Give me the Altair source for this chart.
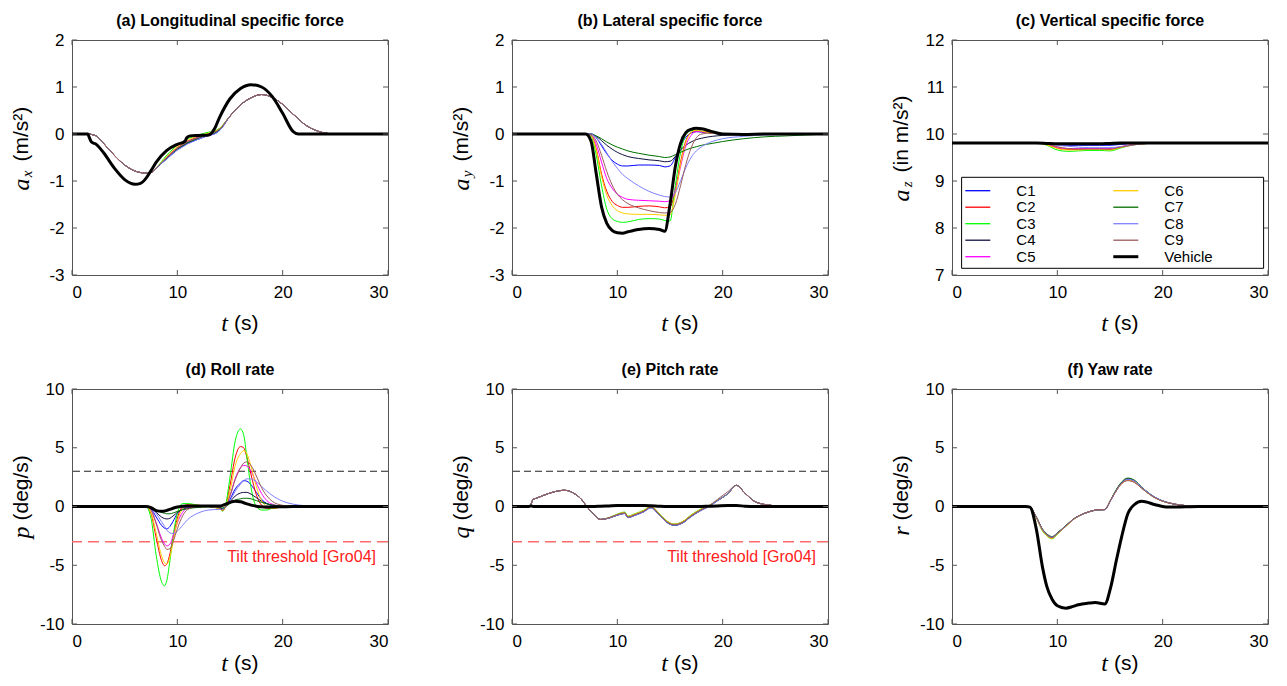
import altair as alt
import pandas as pd

SERIES = ["C1", "C2", "C3", "C4", "C5", "C6", "C7", "C8", "C9", "Vehicle"]
COLORS = ["#0000ff", "#ff0000", "#00ff00", "#101040", "#ff00ff",
          "#ffcc00", "#007000", "#8080ff", "#9c5b5b", "#000000"]
XTICKS = [0, 10, 20, 30]

# ---------------- (a) longitudinal specific force ----------------
a_t = [0, 1.5, 1.6, 1.85, 2.3, 3, 4, 5, 6, 6.5, 7, 7.5, 8, 9, 10, 10.7, 10.9, 11.2, 12, 13, 13.5, 14,
       15, 16, 17, 18, 19, 20, 21, 21.5, 22, 23, 24, 25, 30]
a_C1 = [0, 0, 0, -0.01, -0.04, -0.2, -0.45, -0.66, -0.79, -0.82, -0.83, -0.82, -0.72,
        -0.53, -0.34, -0.24, -0.21, -0.18, -0.11, -0.03, 0.0, 0.07,
        0.38, 0.62, 0.77, 0.84, 0.78, 0.63, 0.42, 0.32, 0.22, 0.09, 0.02, 0, 0]
a_C2 = [0, 0, 0, -0.01, -0.04, -0.2, -0.45, -0.66, -0.79, -0.82, -0.83, -0.82, -0.72,
        -0.49, -0.29, -0.19, -0.16, -0.13, -0.06, 0.01, 0.05, 0.11,
        0.38, 0.62, 0.77, 0.84, 0.78, 0.63, 0.42, 0.32, 0.22, 0.09, 0.02, 0, 0]
a_C3 = [0, 0, 0, -0.01, -0.04, -0.2, -0.45, -0.66, -0.79, -0.82, -0.83, -0.82, -0.72,
        -0.45, -0.24, -0.14, -0.11, -0.08, -0.02, 0.04, 0.06, 0.12,
        0.38, 0.62, 0.77, 0.84, 0.78, 0.63, 0.42, 0.32, 0.22, 0.09, 0.02, 0, 0]
a_C4 = [0, 0, 0, -0.01, -0.04, -0.2, -0.45, -0.66, -0.79, -0.82, -0.83, -0.82, -0.72,
        -0.52, -0.33, -0.23, -0.2, -0.17, -0.1, -0.02, 0.01, 0.08,
        0.38, 0.62, 0.77, 0.84, 0.78, 0.63, 0.42, 0.32, 0.22, 0.09, 0.02, 0, 0]
a_C5 = [0, 0, 0, -0.01, -0.04, -0.2, -0.45, -0.66, -0.79, -0.82, -0.83, -0.82, -0.72,
        -0.5, -0.3, -0.2, -0.17, -0.14, -0.07, 0.0, 0.04, 0.1,
        0.38, 0.62, 0.77, 0.84, 0.78, 0.63, 0.42, 0.32, 0.22, 0.09, 0.02, 0, 0]
a_C6 = [0, 0, 0, -0.01, -0.04, -0.2, -0.45, -0.66, -0.79, -0.82, -0.83, -0.82, -0.72,
        -0.48, -0.27, -0.17, -0.14, -0.11, -0.04, 0.02, 0.05, 0.11,
        0.38, 0.62, 0.77, 0.84, 0.78, 0.63, 0.42, 0.32, 0.22, 0.09, 0.02, 0, 0]
a_C7 = [0, 0, 0, -0.01, -0.04, -0.2, -0.45, -0.66, -0.79, -0.82, -0.83, -0.82, -0.72,
        -0.52, -0.32, -0.22, -0.19, -0.16, -0.09, -0.02, 0.02, 0.09,
        0.38, 0.62, 0.77, 0.84, 0.78, 0.63, 0.42, 0.32, 0.22, 0.09, 0.02, 0, 0]
a_C8 = [0, 0, 0, -0.01, -0.04, -0.2, -0.45, -0.66, -0.79, -0.82, -0.83, -0.82, -0.72,
        -0.53, -0.34, -0.25, -0.22, -0.19, -0.11, -0.03, 0.0, 0.07,
        0.38, 0.62, 0.77, 0.84, 0.78, 0.63, 0.42, 0.32, 0.22, 0.09, 0.02, 0, 0]
a_C9 = [0, 0, 0, -0.01, -0.04, -0.2, -0.45, -0.66, -0.79, -0.82, -0.83, -0.82, -0.72,
        -0.5, -0.3, -0.2, -0.17, -0.14, -0.07, -0.01, 0.04, 0.1,
        0.38, 0.62, 0.77, 0.84, 0.78, 0.63, 0.42, 0.32, 0.22, 0.09, 0.02, 0, 0]
a_V = [0, 0, -0.05, -0.17, -0.22, -0.4, -0.72, -0.97, -1.07, -1.05, -0.95, -0.78, -0.6,
       -0.35, -0.22, -0.16, -0.08, -0.04, -0.03, -0.02, 0.1, 0.35,
       0.75, 0.97, 1.05, 1.0, 0.8, 0.44, 0.05, 0, 0, 0, 0, 0, 0]

# ---------------- (b) lateral specific force ----------------
b_t = [0, 7, 7.5, 8, 8.5, 9, 9.5, 10, 10.5, 11, 12, 13, 14, 14.5, 15, 15.5, 16, 16.5, 17, 17.5,
       18, 19, 20, 22, 24, 26, 28, 30]
b_C1 = [0, 0, 0, -0.08, -0.25, -0.42, -0.56, -0.64, -0.68, -0.68, -0.66, -0.66, -0.67, -0.7,
        -0.68, -0.5, -0.25, -0.07, 0.02, 0.05, 0.04, 0.02, 0, 0, 0, 0, 0, 0]
b_C2 = [0, 0, -0.03, -0.32, -0.85, -1.22, -1.43, -1.52, -1.56, -1.56, -1.54, -1.53, -1.55, -1.57,
        -1.55, -1.2, -0.6, -0.15, 0.03, 0.07, 0.05, 0.02, 0, 0, 0, 0, 0, 0]
b_C3 = [0, 0, -0.05, -0.45, -1.1, -1.6, -1.8, -1.86, -1.88, -1.87, -1.82, -1.8, -1.81, -1.84,
        -1.85, -1.1, -0.4, -0.02, 0.07, 0.08, 0.06, 0.02, 0, 0, 0, 0, 0, 0]
b_C4 = [0, 0, 0, -0.05, -0.14, -0.24, -0.32, -0.39, -0.44, -0.48, -0.52, -0.55, -0.57, -0.59,
        -0.58, -0.48, -0.34, -0.24, -0.17, -0.12, -0.09, -0.05, -0.03, -0.01, 0, 0, 0, 0]
b_C5 = [0, 0, -0.02, -0.22, -0.6, -0.95, -1.15, -1.28, -1.35, -1.39, -1.41, -1.42, -1.43, -1.44,
        -1.42, -1.2, -0.7, -0.25, -0.03, 0.05, 0.05, 0.02, 0, 0, 0, 0, 0, 0]
b_C6 = [0, 0, -0.03, -0.35, -0.9, -1.3, -1.52, -1.63, -1.68, -1.7, -1.71, -1.71, -1.72, -1.73,
        -1.72, -1.3, -0.65, -0.18, 0.03, 0.08, 0.06, 0.02, 0, 0, 0, 0, 0, 0]
b_C7 = [0, 0, 0, -0.04, -0.1, -0.17, -0.23, -0.28, -0.32, -0.36, -0.41, -0.45, -0.48, -0.5,
        -0.49, -0.44, -0.39, -0.34, -0.3, -0.27, -0.24, -0.2, -0.16, -0.1, -0.06, -0.04, -0.02, 0]
b_C8 = [0, 0, 0, -0.08, -0.22, -0.4, -0.58, -0.73, -0.86, -0.95, -1.1, -1.22, -1.3, -1.33,
        -1.34, -1.25, -1.0, -0.72, -0.5, -0.36, -0.27, -0.16, -0.1, -0.05, -0.02, -0.01, 0, 0]
b_C9 = [0, 0, -0.02, -0.15, -0.45, -0.8, -1.08, -1.28, -1.4, -1.48, -1.57, -1.63, -1.67, -1.68,
        -1.67, -1.5, -1.1, -0.65, -0.3, -0.08, 0.0, 0.02, 0.01, 0, 0, 0, 0, 0]
b_V = [0, 0, -0.15, -0.85, -1.55, -1.9, -2.05, -2.1, -2.11, -2.08, -2.03, -2.01, -2.03, -2.07,
       -1.5, -0.7, -0.2, 0.03, 0.1, 0.12, 0.11, 0.05, 0.0, -0.01, 0, 0, 0, 0]

# ---------------- (c) vertical specific force ----------------
c_t = [0, 8, 9, 10, 11, 12, 13, 14, 15, 16, 17, 18, 20, 22, 30]
c_C1 = [9.81, 9.81, 9.8, 9.77, 9.76, 9.76, 9.76, 9.76, 9.76, 9.78, 9.8, 9.81, 9.81, 9.81, 9.81]
c_C2 = [9.81, 9.81, 9.78, 9.7, 9.67, 9.67, 9.68, 9.68, 9.67, 9.72, 9.77, 9.79, 9.81, 9.81, 9.81]
c_C3 = [9.81, 9.81, 9.76, 9.66, 9.63, 9.64, 9.65, 9.65, 9.64, 9.7, 9.76, 9.79, 9.81, 9.81, 9.81]
c_C4 = [9.81, 9.81, 9.8, 9.79, 9.78, 9.78, 9.78, 9.78, 9.78, 9.79, 9.8, 9.81, 9.81, 9.81, 9.81]
c_C5 = [9.81, 9.81, 9.78, 9.72, 9.69, 9.69, 9.69, 9.69, 9.69, 9.73, 9.77, 9.8, 9.81, 9.81, 9.81]
c_C6 = [9.81, 9.81, 9.77, 9.69, 9.66, 9.66, 9.67, 9.67, 9.66, 9.71, 9.76, 9.79, 9.81, 9.81, 9.81]
c_C7 = [9.81, 9.81, 9.8, 9.79, 9.79, 9.79, 9.79, 9.79, 9.79, 9.8, 9.8, 9.81, 9.81, 9.81, 9.81]
c_C8 = [9.81, 9.81, 9.8, 9.76, 9.74, 9.72, 9.71, 9.71, 9.71, 9.73, 9.76, 9.79, 9.81, 9.81, 9.81]
c_C9 = [9.81, 9.81, 9.79, 9.73, 9.69, 9.68, 9.68, 9.68, 9.68, 9.72, 9.76, 9.79, 9.81, 9.81, 9.81]
c_V = [9.81, 9.81, 9.8, 9.79, 9.79, 9.79, 9.79, 9.79, 9.8, 9.81, 9.81, 9.81, 9.81, 9.81, 9.81]

# ---------------- (d) roll rate ----------------
d_t = [0, 7, 7.5, 8, 8.5, 8.8, 9, 9.3, 9.6, 10, 10.5, 11, 12, 13, 14, 14.3, 14.6, 15, 15.5, 16,
       16.3, 16.6, 17, 17.5, 18, 18.5, 19, 20, 21, 22, 24, 30]
d_C1 = [0, 0, -0.2, -0.9, -1.6, -1.85, -1.9, -1.7, -1.25, -0.6, -0.15, 0.0, 0.05, 0.0, -0.15,
        -0.3, 0.0, 0.6, 1.5, 2.0, 2.2, 2.15, 1.85, 1.2, 0.6, 0.25, 0.08, 0.0, 0, 0, 0, 0]
d_C2 = [0, 0, -0.6, -2.7, -4.6, -5.05, -4.9, -4.0, -2.6, -1.0, 0.0, 0.15, 0.1, 0.0, -0.2,
        -0.35, 0.1, 1.8, 4.2, 5.1, 5.0, 4.2, 2.7, 1.0, 0.1, -0.15, -0.15, -0.05, 0, 0, 0, 0]
d_C3 = [0, 0, -1.0, -4.2, -6.4, -6.75, -6.3, -4.6, -2.5, -0.6, 0.25, 0.25, 0.1, 0.0, -0.2,
        -0.4, 0.2, 2.5, 5.6, 6.6, 6.1, 4.2, 1.6, 0.0, -0.3, -0.3, -0.15, -0.05, 0, 0, 0, 0]
d_C4 = [0, 0, -0.1, -0.5, -0.9, -1.03, -1.06, -1.0, -0.8, -0.5, -0.25, -0.1, 0.0, 0.0, -0.1,
        -0.2, 0.0, 0.4, 0.9, 1.15, 1.2, 1.2, 1.05, 0.75, 0.45, 0.25, 0.12, 0.02, 0, 0, 0, 0]
d_C5 = [0, 0, -0.3, -1.4, -2.7, -3.2, -3.35, -3.2, -2.5, -1.4, -0.5, -0.1, 0.05, 0.0, -0.15,
        -0.3, 0.0, 0.9, 2.4, 3.3, 3.5, 3.45, 3.0, 2.0, 1.1, 0.5, 0.2, 0.03, 0, 0, 0, 0]
d_C6 = [0, 0, -0.5, -2.3, -4.2, -4.8, -4.9, -4.3, -3.0, -1.3, -0.2, 0.1, 0.1, 0.0, -0.2,
        -0.35, 0.0, 1.3, 3.5, 4.5, 4.75, 4.5, 3.4, 1.7, 0.5, 0.0, -0.15, -0.05, 0, 0, 0, 0]
d_C7 = [0, 0, -0.05, -0.3, -0.5, -0.58, -0.62, -0.62, -0.55, -0.42, -0.28, -0.18, -0.08, -0.03,
        -0.08, -0.12, 0.0, 0.25, 0.55, 0.65, 0.7, 0.7, 0.65, 0.5, 0.35, 0.22, 0.13, 0.04, 0.01, 0, 0, 0]
d_C8 = [0, 0, -0.1, -0.6, -1.3, -1.7, -2.0, -2.25, -2.3, -2.1, -1.6, -1.1, -0.55, -0.3, -0.25,
        -0.25, 0.0, 0.5, 1.3, 1.9, 2.2, 2.35, 2.35, 2.1, 1.7, 1.3, 0.95, 0.45, 0.2, 0.08, 0.02, 0]
d_C9 = [0, 0, -0.3, -1.5, -2.9, -3.4, -3.65, -3.6, -3.0, -1.9, -0.8, -0.25, 0.0, 0.0, -0.15,
        -0.3, 0.0, 0.9, 2.3, 3.3, 3.7, 3.8, 3.5, 2.6, 1.6, 0.9, 0.45, 0.1, 0.02, 0, 0, 0]
d_V = [0, 0, -0.1, -0.35, -0.4, -0.38, -0.33, -0.25, -0.15, -0.05, 0.02, 0.05, 0.05, 0.05, 0.05,
       0.1, 0.2, 0.35, 0.45, 0.4, 0.32, 0.22, 0.12, 0.03, -0.03, -0.05, -0.04, -0.02, 0, 0, 0, 0]

# ---------------- (e) pitch rate ----------------
e_t = [0, 1.6, 1.8, 2.0, 2.3, 3, 4, 5, 6, 6.6, 7.1, 7.8, 8.4, 9.2, 10, 10.7, 11, 11.6, 12.5, 13.2,
       14, 14.7, 15.4, 16.2, 17, 18, 18.6, 19.5, 20.5, 21.3, 22.1, 23, 24, 24.7, 25, 30]
e_C1 = [0, 0, 0.2, 0.6, 0.7, 0.95, 1.25, 1.38, 1.05, 0.6, 0.0, -0.7, -1.1, -0.99, -0.74, -0.6,
        -0.95, -0.77, -0.45, -0.1, -0.75, -1.35, -1.6, -1.4, -0.86, -0.3, -0.04, 0.5, 1.1, 1.8,
        1.15, 0.45, 0.17, 0.08, 0, 0]
e_C2 = [0, 0, 0.2, 0.6, 0.7, 0.95, 1.25, 1.38, 1.05, 0.6, 0.0, -0.7, -1.1, -0.96, -0.68, -0.52,
        -0.86, -0.68, -0.36, -0.02, -0.66, -1.26, -1.52, -1.3, -0.76, -0.21, 0.02, 0.5, 1.1, 1.8,
        1.15, 0.45, 0.17, 0.08, 0, 0]
e_C3 = [0, 0, 0.2, 0.6, 0.7, 0.95, 1.25, 1.38, 1.05, 0.6, 0.0, -0.7, -1.1, -0.95, -0.65, -0.47,
        -0.82, -0.64, -0.32, 0.02, -0.62, -1.22, -1.5, -1.28, -0.72, -0.18, 0.03, 0.5, 1.1, 1.8,
        1.15, 0.45, 0.17, 0.08, 0, 0]
e_C4 = [0, 0, 0.2, 0.6, 0.7, 0.95, 1.25, 1.38, 1.05, 0.6, 0.0, -0.7, -1.1, -0.99, -0.73, -0.59,
        -0.94, -0.76, -0.44, -0.09, -0.74, -1.34, -1.59, -1.39, -0.85, -0.29, -0.03, 0.5, 1.1, 1.8,
        1.15, 0.45, 0.17, 0.08, 0, 0]
e_C5 = [0, 0, 0.2, 0.6, 0.7, 0.95, 1.25, 1.38, 1.05, 0.6, 0.0, -0.7, -1.1, -0.97, -0.7, -0.55,
        -0.89, -0.71, -0.39, -0.04, -0.69, -1.29, -1.54, -1.34, -0.79, -0.24, 0.0, 0.5, 1.1, 1.8,
        1.15, 0.45, 0.17, 0.08, 0, 0]
e_C6 = [0, 0, 0.2, 0.6, 0.7, 0.95, 1.25, 1.38, 1.05, 0.6, 0.0, -0.7, -1.1, -0.96, -0.67, -0.5,
        -0.84, -0.66, -0.34, 0.0, -0.64, -1.24, -1.51, -1.29, -0.74, -0.2, 0.02, 0.5, 1.1, 1.8,
        1.15, 0.45, 0.17, 0.08, 0, 0]
e_C7 = [0, 0, 0.2, 0.6, 0.7, 0.95, 1.25, 1.38, 1.05, 0.6, 0.0, -0.7, -1.1, -0.98, -0.72, -0.58,
        -0.93, -0.75, -0.43, -0.08, -0.73, -1.33, -1.58, -1.38, -0.84, -0.28, -0.02, 0.5, 1.1, 1.8,
        1.15, 0.45, 0.17, 0.08, 0, 0]
e_C8 = [0, 0, 0.2, 0.6, 0.7, 0.95, 1.25, 1.38, 1.05, 0.6, 0.0, -0.7, -1.1, -0.99, -0.74, -0.6,
        -0.95, -0.78, -0.46, -0.11, -0.76, -1.36, -1.6, -1.41, -0.87, -0.31, -0.05, 0.49, 1.1, 1.8,
        1.15, 0.45, 0.17, 0.08, 0, 0]
e_C9 = [0, 0, 0.2, 0.6, 0.7, 0.95, 1.25, 1.38, 1.05, 0.6, 0.0, -0.7, -1.1, -0.97, -0.7, -0.55,
        -0.9, -0.72, -0.4, -0.05, -0.7, -1.3, -1.55, -1.35, -0.8, -0.25, 0.0, 0.6, 1.27, 1.8,
        1.15, 0.45, 0.17, 0.08, 0, 0]
e_V = [0, 0, 0.05, 0, 0, 0, 0, 0, 0, 0, 0, 0, 0.02, 0.05, 0.08, 0.08, 0.08, 0.08, 0.08, 0.06,
       0.02, 0, 0, 0, 0, 0, 0.02, 0.05, 0.08, 0.08, 0.03, 0, 0, 0, 0, 0]

# ---------------- (f) yaw rate ----------------
f_t = [0, 7, 7.4, 8, 8.6, 9, 9.5, 10, 10.8, 11.5, 12, 13, 13.6, 14.5, 15.1, 15.6, 16.1, 16.7,
       17.3, 18, 19.3, 20, 20.6, 22.2, 23.4, 25, 30]
f_C1 = [0, 0, -0.05, -0.9, -2.0, -2.4, -2.62, -2.28, -1.66, -1.1, -0.82, -0.46, -0.32, -0.27,
        0.58, 1.38, 2.0, 2.3, 2.15, 1.6, 0.75, 0.46, 0.3, 0.07, 0.0, 0, 0]
f_C2 = [0, 0, -0.05, -0.92, -2.05, -2.45, -2.7, -2.33, -1.69, -1.12, -0.83, -0.46, -0.32, -0.26,
        0.6, 1.35, 1.95, 2.22, 2.08, 1.56, 0.73, 0.45, 0.3, 0.07, 0.0, 0, 0]
f_C3 = [0, 0, -0.05, -0.95, -2.1, -2.5, -2.75, -2.36, -1.7, -1.12, -0.83, -0.46, -0.32, -0.26,
        0.62, 1.38, 1.98, 2.25, 2.1, 1.57, 0.73, 0.45, 0.3, 0.07, 0.0, 0, 0]
f_C4 = [0, 0, -0.05, -0.88, -1.95, -2.35, -2.58, -2.25, -1.64, -1.09, -0.81, -0.45, -0.31, -0.26,
        0.6, 1.42, 2.05, 2.38, 2.22, 1.64, 0.76, 0.47, 0.31, 0.07, 0.0, 0, 0]
f_C5 = [0, 0, -0.05, -0.91, -2.02, -2.43, -2.68, -2.31, -1.68, -1.11, -0.82, -0.45, -0.31, -0.25,
        0.6, 1.36, 1.97, 2.24, 2.1, 1.58, 0.74, 0.46, 0.3, 0.07, 0.0, 0, 0]
f_C6 = [0, 0, -0.05, -0.93, -2.06, -2.47, -2.72, -2.34, -1.69, -1.12, -0.83, -0.46, -0.32, -0.26,
        0.61, 1.36, 1.96, 2.23, 2.09, 1.56, 0.73, 0.45, 0.3, 0.07, 0.0, 0, 0]
f_C7 = [0, 0, -0.05, -0.87, -1.93, -2.33, -2.56, -2.24, -1.63, -1.08, -0.81, -0.45, -0.31, -0.26,
        0.61, 1.44, 2.08, 2.42, 2.25, 1.66, 0.77, 0.48, 0.31, 0.07, 0.0, 0, 0]
f_C8 = [0, 0, -0.05, -0.89, -1.97, -2.38, -2.6, -2.27, -1.66, -1.1, -0.82, -0.46, -0.32, -0.27,
        0.57, 1.36, 2.0, 2.32, 2.18, 1.63, 0.77, 0.48, 0.32, 0.08, 0.0, 0, 0]
f_C9 = [0, 0, -0.05, -0.9, -2.0, -2.4, -2.65, -2.3, -1.67, -1.1, -0.82, -0.45, -0.31, -0.25,
        0.6, 1.35, 1.95, 2.2, 2.05, 1.55, 0.72, 0.45, 0.3, 0.07, 0.0, 0, 0]
f_V = [0, 0, -0.05, -1.9, -5.2, -6.8, -7.9, -8.45, -8.65, -8.5, -8.36, -8.22, -8.17, -8.3,
       -6.75, -4.6, -2.6, -0.6, 0.15, 0.45, 0.15, 0.0, -0.05, -0.02, 0, 0, 0]

THRESH_UP = [3]
THRESH_LO = [-3]

W, H = 316, 235
SANS = "Liberation Sans"
SERIF = "Liberation Serif"
FRAME = "#555555"


def build_df(t, lists):
    rows = []
    for name, vals in zip(SERIES, lists):
        if len(vals) != len(t):
            raise ValueError(f"{name}: {len(vals)} values vs {len(t)} times")
        rows += [{"t": a, "v": b, "s": name} for a, b in zip(t, vals)]
    return pd.DataFrame(rows)


def text_layer(txt, x, y, size, font=SANS, style="normal", weight="normal",
               align="center", baseline="middle", angle=0, color="black"):
    return alt.Chart(pd.DataFrame({"label": [txt]})).mark_text(
        font=font, fontSize=size, fontStyle=style, fontWeight=weight,
        align=align, baseline=baseline, angle=angle, color=color
    ).encode(x=alt.value(x), y=alt.value(y), text="label:N")


def ylabel_layers(letter, sub, unit, unit_w, gap):
    sub_w = 8 if sub else 0
    letter_w = 12
    total = unit_w + gap + sub_w + letter_w
    top = 108 - total / 2
    xc = -50
    layers = [text_layer(unit, xc, top + unit_w, 21, align="left", angle=270)]
    if sub:
        layers.append(text_layer(sub, xc + 5, top + unit_w + gap, 15, font=SERIF,
                                 style="italic", align="right", angle=270))
    layers.append(text_layer(letter, xc, top + unit_w + gap + sub_w, 24, font=SERIF,
                             style="italic", align="right", angle=270))
    return layers


def panel(title, t, lists, ydom, yticks, letter, sub, unit, unit_w, gap,
          thresholds=False, legend=False, xtitle_dy=49):
    df = build_df(t, lists)
    X = alt.X("t:Q", scale=alt.Scale(domain=[0, 30], nice=False),
              axis=alt.Axis(values=XTICKS, title=None, ticks=False, domain=False,
                            grid=False, labelPadding=9, labelExpr="'' + datum.value"))
    Y = alt.Y("v:Q", scale=alt.Scale(domain=ydom, nice=False, zero=False),
              axis=alt.Axis(values=yticks, title=None, ticks=False, domain=False,
                            grid=False, labelPadding=8, labelExpr="'' + datum.value"))
    base = alt.Chart(df)
    layers = []
    if thresholds:
        layers.append(alt.Chart(pd.DataFrame({"v": THRESH_UP})).mark_rule(
            color="#222222", strokeWidth=1, strokeDash=[7, 4]).encode(y=Y))
        layers.append(alt.Chart(pd.DataFrame({"v": THRESH_LO})).mark_rule(
            color="#ff6a6a", strokeWidth=1.6, strokeDash=[11, 6]).encode(y=Y))
    layers.append(base.transform_filter(alt.datum.s != "Vehicle").mark_line(
        strokeWidth=1, interpolate="monotone").encode(
        x=X, y=Y, color=alt.Color("s:N", scale=alt.Scale(domain=SERIES, range=COLORS),
                                  legend=None)))
    layers.append(base.transform_filter(alt.datum.s == "Vehicle").mark_line(
        strokeWidth=3, interpolate="monotone", color="black").encode(x=X, y=Y))
    # inward ticks on all four sides
    yt = alt.Chart(pd.DataFrame({"v": yticks}))
    xt = alt.Chart(pd.DataFrame({"t": XTICKS}))
    layers += [
        yt.mark_rule(color=FRAME).encode(y=Y, x=alt.value(0), x2=alt.value(5)),
        yt.mark_rule(color=FRAME).encode(y=Y, x=alt.value(W - 5), x2=alt.value(W)),
        xt.mark_rule(color=FRAME).encode(x=X, y=alt.value(H - 5), y2=alt.value(H)),
        xt.mark_rule(color=FRAME).encode(x=X, y=alt.value(0), y2=alt.value(5)),
    ]
    if thresholds:
        layers.append(text_layer("Tilt threshold [Gro04]", 304, 168, 16,
                                 align="right", color="#ff2020"))
    # x title "t (s)"
    layers.append(text_layer("t", W / 2 - 2, H + xtitle_dy, 24, font=SERIF, style="italic",
                             align="right"))
    layers.append(text_layer("(s)", W / 2 + 4, H + xtitle_dy, 21, align="left"))
    layers += ylabel_layers(letter, sub, unit, unit_w, gap)
    if legend:
        layers.append(alt.Chart(pd.DataFrame({"k": [0]})).mark_rect(
            fill="white", stroke="black", strokeWidth=1).encode(
            x=alt.value(9.6), x2=alt.value(311.6), y=alt.value(137.3), y2=alt.value(228.3)))
        for i, (name, col) in enumerate(zip(SERIES, COLORS)):
            c, r = divmod(i, 5)
            x0 = 13.3 + c * 148
            yy = 150.7 + r * 16.5
            layers.append(alt.Chart(pd.DataFrame({"k": [0]})).mark_rule(
                color=col, strokeWidth=3 if name == "Vehicle" else 1.3).encode(
                x=alt.value(x0), x2=alt.value(x0 + 25), y=alt.value(yy)))
            layers.append(text_layer(name, x0 + 51, yy, 15, align="left"))
    return alt.layer(*layers).properties(
        width=W, height=H,
        title=alt.TitleParams(title, fontSize=16, fontWeight="bold", font=SANS,
                              anchor="middle", frame="group", offset=2))


pa = panel("(a) Longitudinal specific force", a_t,
           [a_C1, a_C2, a_C3, a_C4, a_C5, a_C6, a_C7, a_C8, a_C9, a_V],
           [-3, 2], [-3, -2, -1, 0, 1, 2], "a", "x", "(m/s²)", 56, 9)
pb = panel("(b) Lateral specific force", b_t,
           [b_C1, b_C2, b_C3, b_C4, b_C5, b_C6, b_C7, b_C8, b_C9, b_V],
           [-3, 2], [-3, -2, -1, 0, 1, 2], "a", "y", "(m/s²)", 56, 9)
pc = panel("(c) Vertical specific force", c_t,
           [c_C1, c_C2, c_C3, c_C4, c_C5, c_C6, c_C7, c_C8, c_C9, c_V],
           [7, 12], [7, 8, 9, 10, 11, 12], "a", "z", "(in m/s²)", 78, 9, legend=True)
pd_ = panel("(d) Roll rate", d_t,
            [d_C1, d_C2, d_C3, d_C4, d_C5, d_C6, d_C7, d_C8, d_C9, d_V],
            [-10, 10], [-10, -5, 0, 5, 10], "p", None, "(deg/s)", 65, 6, thresholds=True,
            xtitle_dy=40)
pe = panel("(e) Pitch rate", e_t,
           [e_C1, e_C2, e_C3, e_C4, e_C5, e_C6, e_C7, e_C8, e_C9, e_V],
           [-10, 10], [-10, -5, 0, 5, 10], "q", None, "(deg/s)", 65, 6, thresholds=True,
           xtitle_dy=40)
pf = panel("(f) Yaw rate", f_t,
           [f_C1, f_C2, f_C3, f_C4, f_C5, f_C6, f_C7, f_C8, f_C9, f_V],
           [-10, 10], [-10, -5, 0, 5, 10], "r", None, "(deg/s)", 65, 6, xtitle_dy=40)

chart = alt.concat(pa, pb, pc, pd_, pe, pf, columns=3,
                   spacing={"row": 114, "column": 124}, bounds="flush").properties(
    padding={"left": 9, "top": 12, "right": 5, "bottom": 5}
).configure_view(stroke=FRAME, strokeWidth=1).configure_axis(
    labelFont=SANS, labelFontSize=17, labelColor="black"
)

chart.save("out.html", embed_options={"renderer": "svg", "actions": False})
